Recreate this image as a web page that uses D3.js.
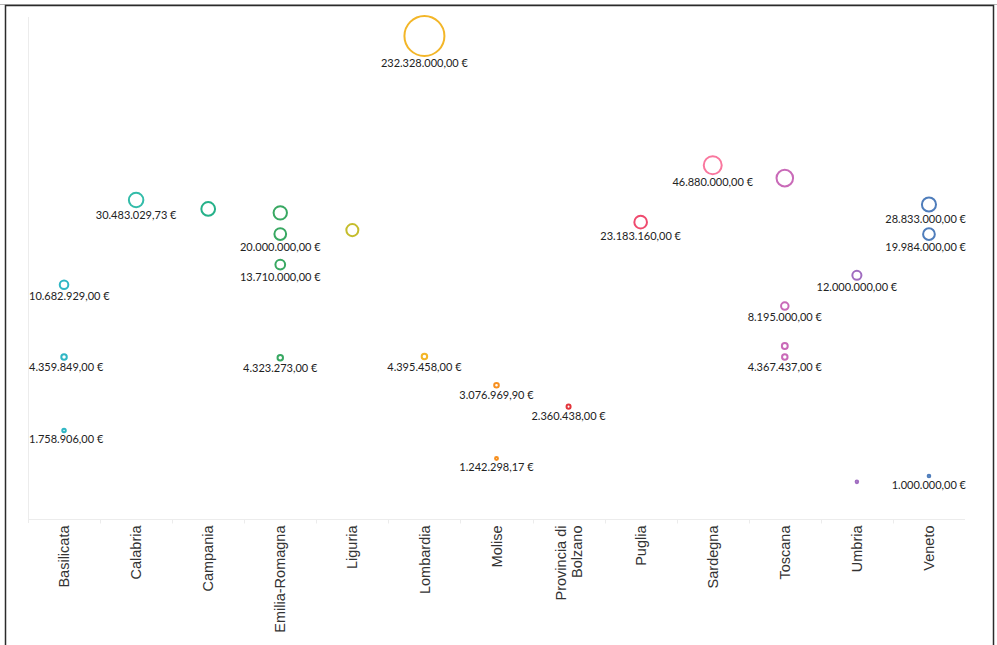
<!DOCTYPE html>
<html>
<head>
<meta charset="utf-8">
<script src="https://cdn.jsdelivr.net/npm/d3@7"></script>
<style>
  html, body { margin: 0; padding: 0; background: #fff; }
  svg { display: block; }
</style>
</head>
<body>
<svg id="chart" width="997" height="645"></svg>
<script>
// Regions along the x axis
const categories = ["Basilicata", "Calabria", "Campania", "Emilia-Romagna", "Liguria", "Lombardia",
  "Molise", "Provincia di Bolzano", "Puglia", "Sardegna", "Toscana", "Umbria", "Veneto"];

// One entry per funded item: region, amount (€) and whether its amount is printed
const pointRegion = [
  "Basilicata", "Basilicata", "Basilicata",
  "Calabria",
  "Campania",
  "Emilia-Romagna", "Emilia-Romagna", "Emilia-Romagna", "Emilia-Romagna",
  "Liguria",
  "Lombardia", "Lombardia",
  "Molise", "Molise",
  "Provincia di Bolzano",
  "Puglia",
  "Sardegna",
  "Toscana", "Toscana", "Toscana", "Toscana",
  "Umbria", "Umbria",
  "Veneto", "Veneto", "Veneto"
];
const pointValue = [
  10682929, 4359849, 1758906,
  30483029.73,
  27300000,
  26000000, 20000000, 13710000, 4323273,
  21000000,
  232328000, 4395458,
  3076969.90, 1242298.17,
  2360438,
  23183160,
  46880000,
  40000000, 8195000, 5000000, 4367437,
  12000000, 930000,
  28833000, 19984000, 1000000
];
const pointLabeled = [
  true, true, true,
  true,
  false,
  false, true, true, true,
  false,
  true, true,
  true, true,
  true,
  true,
  true,
  false, true, false, true,
  true, false,
  true, true, true
];

// Colour per region
const regionColors = ["#2fb6c4", "#33bca9", "#25b189", "#38a862", "#c5bd2c", "#f3b628",
  "#f78f1e", "#e3343a", "#ef4a6e", "#f9779e", "#c96ab8", "#a06cc0", "#4f7dbb"];

const points = pointValue.map((v, i) => ({ region: pointRegion[i], value: v, labeled: pointLabeled[i] }));

const svg = d3.select("#chart");

// Outer frame
svg.append("line").attr("x1", 0).attr("x2", 997).attr("y1", 4.5).attr("y2", 4.5)
  .attr("stroke", "#b5b5b5").attr("stroke-width", 1);
svg.append("rect").attr("x", 5.5).attr("y", 5.5).attr("width", 988).attr("height", 700)
  .attr("fill", "none").attr("stroke", "#2b2b2b").attr("stroke-width", 1.5);

const plot = { left: 28, right: 965, top: 17, bottom: 519 };

const x = d3.scaleBand().domain(categories).range([plot.left, plot.right]).padding(0);
const y = d3.scaleLog().domain([1e6, 232328000]).range([476, 36]);
const r = d3.scaleSqrt().domain([0, d3.max(pointValue)]).range([0, 20]);
const color = d3.scaleOrdinal().domain(categories).range(regionColors);

// Pane border lines
svg.append("line")
  .attr("x1", plot.left + 0.5).attr("x2", plot.left + 0.5)
  .attr("y1", plot.top).attr("y2", plot.bottom + 4)
  .attr("stroke", "#ececec").attr("stroke-width", 1);

// Category axis
const xAxis = svg.append("g")
  .attr("transform", `translate(0,${plot.bottom + 0.5})`);
xAxis.append("line")
  .attr("x1", plot.left).attr("x2", plot.right)
  .attr("stroke", "#ececec");
xAxis.selectAll("line.tick")
  .data(categories.slice(1))
  .join("line")
  .attr("class", "tick")
  .attr("x1", d => Math.round(x(d)) + 0.5).attr("x2", d => Math.round(x(d)) + 0.5)
  .attr("y1", 0).attr("y2", 4)
  .attr("stroke", "#ececec");

const catLabel = xAxis.selectAll("text")
  .data(categories)
  .join("text")
  .attr("transform", d => `translate(${x(d) + x.bandwidth() / 2},6) rotate(-90)`)
  .attr("text-anchor", "end")
  .attr("font-family", "'Liberation Sans', Arial, sans-serif")
  .attr("font-size", "14.5px")
  .attr("fill", "#333");
catLabel.each(function (d) {
  const t = d3.select(this);
  const lines = d === "Provincia di Bolzano" ? ["Provincia di", "Bolzano"] : [d];
  const n = lines.length;
  lines.forEach((ln, i) => {
    t.append("tspan")
      .attr("x", 0)
      .attr("y", (i - (n - 1) / 2) * 16)
      .attr("dy", "0.35em")
      .text(ln);
  });
});

// Bubbles
svg.append("g").selectAll("circle")
  .data(points)
  .join("circle")
  .attr("cx", d => x(d.region) + x.bandwidth() / 2)
  .attr("cy", d => y(d.value))
  .attr("r", d => r(d.value))
  .attr("fill", "none")
  .attr("stroke", d => color(d.region))
  .attr("stroke-width", 2);

// Italian currency format
const it = d3.formatLocale({ decimal: ",", thousands: ".", grouping: [3], currency: ["", " €"] });
const fmt = it.format("$,.2f");

const labels = svg.append("g").selectAll("text")
  .data(points.filter(d => d.labeled))
  .join("text")
  .attr("x", d => x(d.region) + x.bandwidth() / 2)
  .attr("y", d => y(d.value) + r(d.value) + 7.5)
  .attr("dy", "0.35em")
  .attr("text-anchor", "middle")
  .attr("font-family", "Lato, 'Open Sans', sans-serif")
  .attr("font-size", "11px")
  .attr("fill", "#222")
  .text(d => fmt(d.value));

// Keep value labels inside the pane
labels.each(function () {
  const t = d3.select(this);
  const w = this.getComputedTextLength();
  const cx = +t.attr("x");
  let left = cx - w / 2;
  if (left < plot.left + 1) left = plot.left + 1;
  if (left + w > plot.right + 1) left = plot.right + 1 - w;
  t.attr("x", left + w / 2);
});
</script>
</body>
</html>
